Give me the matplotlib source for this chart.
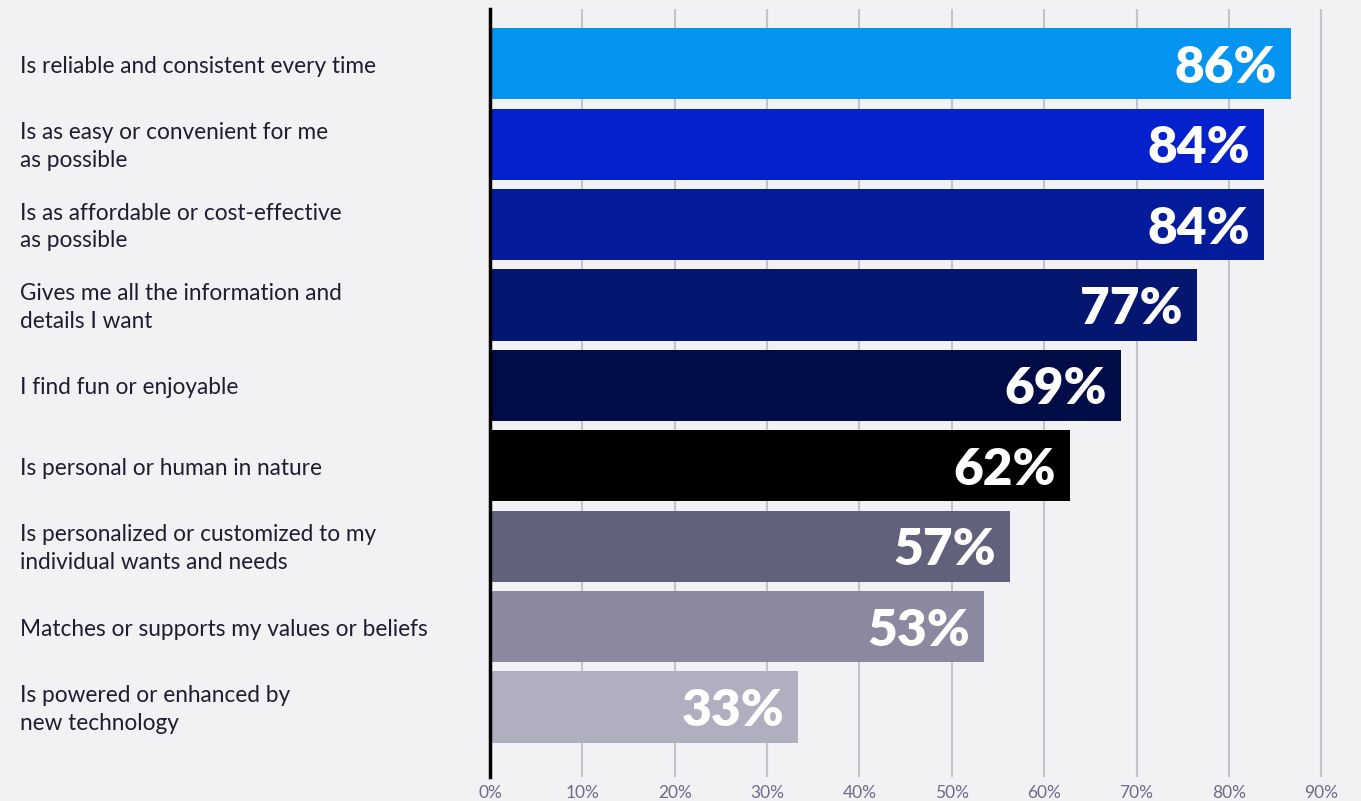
import matplotlib.pyplot as plt
from matplotlib.transforms import blended_transform_factory

categories = [
    "Is reliable and consistent every time",
    "Is as easy or convenient for me\nas possible",
    "Is as affordable or cost-effective\nas possible",
    "Gives me all the information and\ndetails I want",
    "I find fun or enjoyable",
    "Is personal or human in nature",
    "Is personalized or customized to my\nindividual wants and needs",
    "Matches or supports my values or beliefs",
    "Is powered or enhanced by\nnew technology",
]
values = [86.75, 83.8, 83.8, 76.5, 68.3, 62.8, 56.3, 53.5, 33.4]
value_labels = ["86%", "84%", "84%", "77%", "69%", "62%", "57%", "53%", "33%"]
colors = ["#0594f0", "#0521cd", "#041b9c", "#041670", "#020d47", "#000000",
          "#62617c", "#8a89a0", "#b0afbf"]
xticks = list(range(0, 100, 10))

bg = "#f2f2f4"
fig = plt.figure(figsize=(13.61, 8.01), dpi=100, facecolor=bg)
ax = fig.add_axes([490 / 1361, 24 / 801, 871 / 1361, 768 / 801])
ax.set_facecolor(bg)

y = list(range(len(categories)))
ax.barh(y, values, height=0.885, color=colors, zorder=3)

for i, (v, lab) in enumerate(zip(values, value_labels)):
    ax.text(v - 1.5, i + 0.05, lab, ha="right", va="center", color="white",
            fontsize=37, fontweight="heavy", family="Lato", zorder=4)

trans = blended_transform_factory(fig.transFigure, ax.transData)
for i, cat in enumerate(categories):
    ax.text(20 / 1361, i + 0.03, cat, transform=trans,
            ha="left", va="center", fontsize=16.3, color="#1e1e30", family="Lato",
            linespacing=1.4)

ax.set_xlim(0, 94.3)
ax.set_ylim(8.87, -0.68)
ax.set_xticks(xticks)
ax.set_xticklabels([f"{t}%" for t in xticks], fontsize=12.5, color="#6d6c88", family="Lato")
ax.tick_params(axis="x", length=0, pad=6)
ax.set_yticks([])
ax.grid(axis="x", color="#c4c3cc", linewidth=1.5, zorder=0)
for s in ["top", "right", "bottom"]:
    ax.spines[s].set_visible(False)
ax.spines["left"].set_linewidth(2.5)
ax.spines["left"].set_color("black")
ax.spines["left"].set_zorder(5)

fig.savefig("out.png", dpi=100, facecolor=bg)
